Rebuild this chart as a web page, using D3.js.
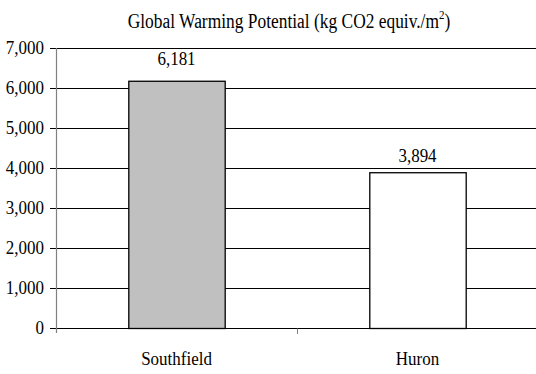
<!DOCTYPE html>
<html><head><meta charset="utf-8">
<script src="https://cdn.jsdelivr.net/npm/d3@7"></script>
<style>body{margin:0;background:#fff}svg{display:block}</style>
</head><body><svg id="c" width="536" height="374"></svg>
<script>
const categories = ["Southfield", "Huron"];
const values = [6181, 3894];
const fills = ["#c0c0c0", "#ffffff"];
const yTicks = [0, 1000, 2000, 3000, 4000, 5000, 6000, 7000];

const svg = d3.select("#c");
const W = 536, H = 374;
const m = {left: 56, right: -2, top: 48, bottom: 46};
const x = d3.scaleBand().domain(categories).range([m.left, W - m.right]).paddingInner(0.6).paddingOuter(0.3);
const y = d3.scaleLinear().domain([0, 7000]).range([H - m.bottom, m.top]);
const fmt = d3.format(",");
const FS = 17, SY = 1.15;
const FF = "'Liberation Serif', 'Times New Roman', serif";
const labelGap = [16, 10];

function label(g, px, py, txt, anchor) {
  return g.append("text").attr("transform", `translate(${px},${py}) scale(1,${SY})`)
    .attr("text-anchor", anchor).style("font-family", FF).style("font-size", FS + "px").attr("fill", "#000").text(txt);
}

// gridlines
svg.append("g").selectAll("line").data(yTicks).join("line")
  .attr("x1", m.left - 6).attr("x2", W).attr("y1", d => Math.round(y(d)) + 0.5).attr("y2", d => Math.round(y(d)) + 0.5)
  .attr("stroke", "#000").attr("stroke-width", 1);

// bars
svg.append("g").selectAll("rect").data(values).join("rect")
  .attr("x", (d, i) => x(categories[i]) + 0.5).attr("width", x.bandwidth())
  .attr("y", d => y(d) + 0.5).attr("height", d => y(0) - y(d))
  .attr("fill", (d, i) => fills[i]).attr("stroke", "#000").attr("stroke-width", 1.3);

// y axis line
svg.append("line").attr("x1", m.left + 0.5).attr("x2", m.left + 0.5)
  .attr("y1", y(7000)).attr("y2", y(0) + 5).attr("stroke", "#808080").attr("stroke-width", 1.2);
const gy = svg.append("g");
yTicks.forEach(v => label(gy, m.left - 12, y(v) + 6, fmt(v), "end"));

// x axis ticks
const bw = x.step();
const xTicks = [m.left + bw];
svg.append("g").selectAll("line").data(xTicks).join("line")
  .attr("x1", d => Math.round(d) + 0.5).attr("x2", d => Math.round(d) + 0.5)
  .attr("y1", Math.round(y(0)) + 0.5).attr("y2", Math.round(y(0)) + 6)
  .attr("stroke", "#808080");
const gx = svg.append("g");
categories.forEach(c => label(gx, x(c) + x.bandwidth() / 2, y(0) + 37, c, "middle"));

// value labels
const gv = svg.append("g");
values.forEach((v, i) => label(gv, x(categories[i]) + x.bandwidth() / 2, y(v) - labelGap[i], fmt(v), "middle"));

// title
const t = svg.append("text").attr("transform", `translate(289,28) scale(1,${SY})`).attr("text-anchor", "middle")
  .style("font-family", FF).style("font-size", "17.4px").attr("fill", "#000");
t.append("tspan").text("Global Warming Potential (kg CO2 equiv./m");
t.append("tspan").style("font-size", "11px").attr("dy", -8).text("2");
t.append("tspan").attr("dy", 8).text(")");
</script></body></html>
